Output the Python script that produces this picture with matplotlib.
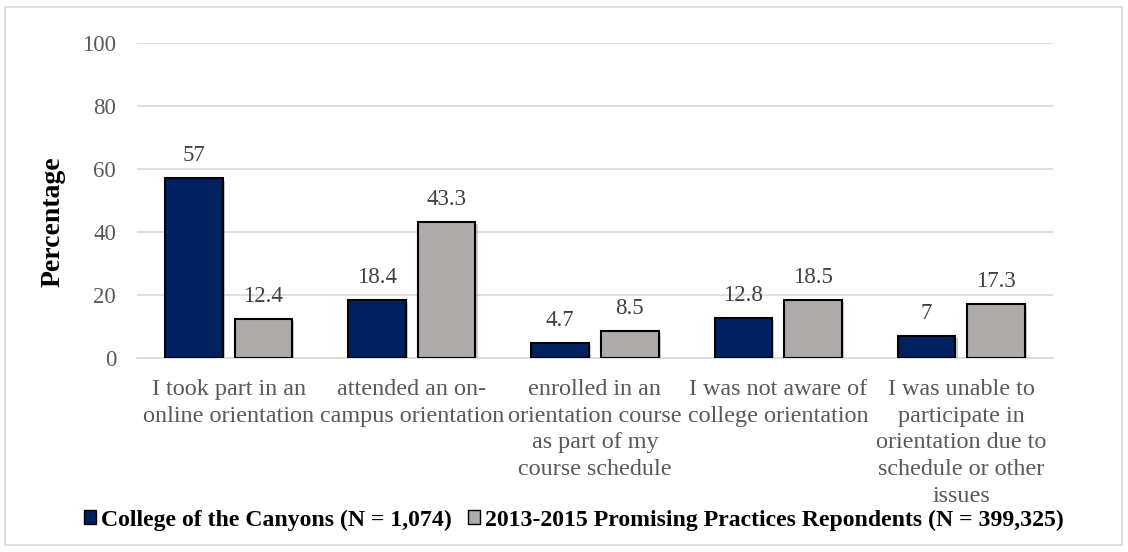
import matplotlib
matplotlib.use("Agg")
import matplotlib.pyplot as plt
import numpy as np
from matplotlib.patches import Rectangle
import matplotlib.patheffects as pe

categories = [
    "I took part in an\nonline orientation",
    "attended an on-\ncampus orientation",
    "enrolled in an\norientation course\nas part of my\ncourse schedule",
    "I was not aware of\ncollege orientation",
    "I was unable to\nparticipate in\norientation due to\nschedule or other\nissues",
]
series_names = ["College of the Canyons (N = 1,074)",
                "2013-2015 Promising Practices Repondents (N = 399,325)"]
canyons = [57, 18.4, 4.7, 12.8, 7]
promising = [12.4, 43.3, 8.5, 18.5, 17.3]
label_canyons = ["57", "18.4", "4.7", "12.8", "7"]
label_promising = ["12.4", "43.3", "8.5", "18.5", "17.3"]
yticks = [0, 20, 40, 60, 80, 100]

plt.rcParams['font.family'] = ['Liberation Serif', 'DejaVu Serif']

fig = plt.figure(figsize=(11.28, 5.52), dpi=100)
# outer border
fig.patches.append(Rectangle((5/1128, 7/552), 1117/1128, 538/552, transform=fig.transFigure,
                             fill=False, edgecolor='#D9D9D9', linewidth=1.2))
ax = fig.add_axes([137/1128, 1-358/552, (1053-137)/1128, (358-43)/552])

x = np.arange(len(categories))
w = 0.315
off = 0.19
shadow = [pe.SimplePatchShadow(offset=(1.5, -1.5), shadow_rgbFace='#999999', alpha=0.5), pe.Normal()]
b1 = ax.bar(x - off, canyons, w, color='#002060', edgecolor='black', linewidth=1.5, zorder=3,
            label=series_names[0])
b2 = ax.bar(x + off, promising, w, color='#AEAAAA', edgecolor='black', linewidth=1.5, zorder=3,
            label=series_names[1])
for b in list(b1) + list(b2):
    b.set_path_effects(shadow)

for xi, v, t in zip(x - off, canyons, label_canyons):
    ax.text(xi, v + 3.8, t, ha='center', va='bottom', fontsize=16.5, color='#404040')
for xi, v, t in zip(x + off, promising, label_promising):
    ax.text(xi, v + 3.8, t, ha='center', va='bottom', fontsize=16.5, color='#404040')

ax.set_xlim(-0.5, len(categories) - 0.5)
ax.set_ylim(0, 100)
ax.set_yticks(yticks)
ax.set_yticklabels([str(t) for t in yticks], fontsize=16.5, color='#595959')
ax.set_xticks(x)
ax.set_xticklabels(categories, fontsize=17.4, color='#595959', linespacing=1.36, va='top')
ax.tick_params(axis='both', length=0)
ax.tick_params(axis='y', pad=15)
ax.tick_params(axis='x', pad=15)
ax.yaxis.grid(True, color='#D9D9D9', linewidth=1.2, zorder=0)
ax.set_axisbelow(True)
for s in ['top', 'right', 'left']:
    ax.spines[s].set_visible(False)
ax.spines['bottom'].set_color('#D9D9D9')
ax.spines['bottom'].set_linewidth(1.2)
fig.text(53/1128, 1 - 222/552, 'Percentage', rotation=90, ha='center', va='center',
         fontsize=20, fontweight='bold', color='black')

leg = fig.legend(handles=[b1, b2], loc='center', bbox_to_anchor=(574/1128, 1 - 520/552), ncol=2,
                 frameon=False, prop={'weight': 'bold', 'size': 17.1},
                 handlelength=0.5, handleheight=0.5, handletextpad=0.2, columnspacing=0.7,
                 borderpad=0, borderaxespad=0)
for h in leg.legend_handles:
    h.set_linewidth(1.0)
    h.set_path_effects([])

fig.savefig('out.png', dpi=100)
